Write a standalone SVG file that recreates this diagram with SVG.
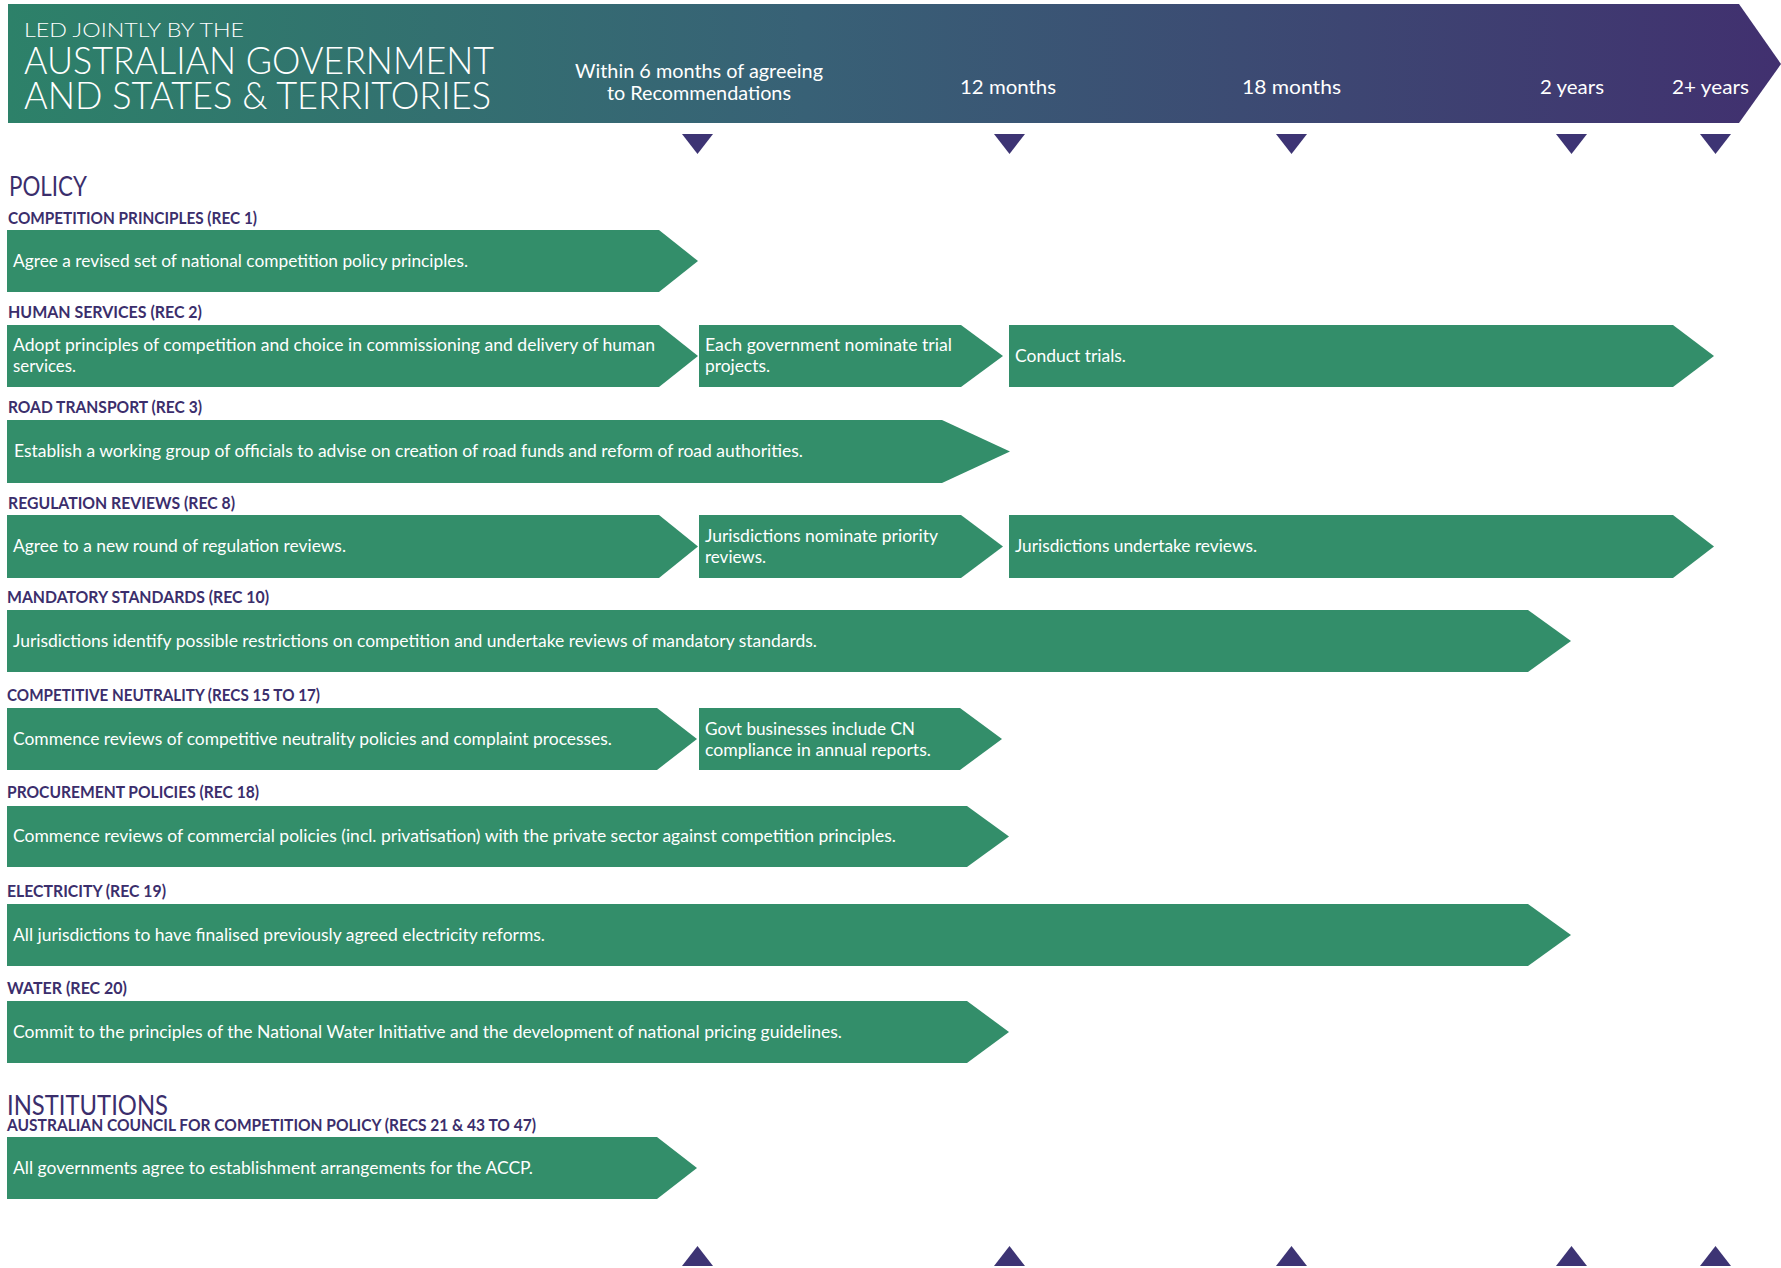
<svg xmlns="http://www.w3.org/2000/svg" width="1781" height="1268" viewBox="0 0 1781 1268">
<defs>
<linearGradient id="hdr" x1="0" y1="0" x2="1" y2="0">
<stop offset="0" stop-color="#2d8169"/>
<stop offset="0.45" stop-color="#386176"/>
<stop offset="1" stop-color="#41306f"/>
</linearGradient>
</defs>
<style>
.bar{fill:#338e6a}
.tri{fill:#3d3474}
.bt{fill:#ffffff;font-family:Lato,'Liberation Sans',sans-serif;font-size:17px}
.hd{fill:#3b2e6c;font-family:Lato,'Liberation Sans',sans-serif;font-size:17px;font-weight:700}
.sec{fill:#3b2e6c;font-family:Lato,'Liberation Sans',sans-serif;font-size:27px;font-weight:400}
.ht{fill:#ffffff;font-family:Lato,'Liberation Sans',sans-serif;font-weight:300}
.tl{fill:#ffffff;font-family:Lato,'Liberation Sans',sans-serif;font-size:20px;font-weight:400}
</style>
<rect width="1781" height="1268" fill="#ffffff"/>

<g id="header">
<polygon points="8,4 1739,4 1781,64 1739,123 8,123" fill="url(#hdr)"/>
<text class="ht" x="24" y="37" font-size="20" textLength="220" lengthAdjust="spacingAndGlyphs">LED JOINTLY BY THE</text>
<text class="ht" x="24" y="74" font-size="38" textLength="470" lengthAdjust="spacingAndGlyphs">AUSTRALIAN GOVERNMENT</text>
<text class="ht" x="24" y="109" font-size="38" textLength="467" lengthAdjust="spacingAndGlyphs">AND STATES &amp; TERRITORIES</text>
<text class="tl" x="575" y="78" textLength="248" lengthAdjust="spacingAndGlyphs">Within 6 months of agreeing</text>
<text class="tl" x="607" y="100" textLength="184" lengthAdjust="spacingAndGlyphs">to Recommendations</text>
<text class="tl" x="960" y="94" textLength="96" lengthAdjust="spacingAndGlyphs">12 months</text>
<text class="tl" x="1242" y="94" textLength="99" lengthAdjust="spacingAndGlyphs">18 months</text>
<text class="tl" x="1540" y="94" textLength="64" lengthAdjust="spacingAndGlyphs">2 years</text>
<text class="tl" x="1672" y="94" textLength="77" lengthAdjust="spacingAndGlyphs">2+ years</text>
</g>

<g id="markers-top">
<polygon class="tri" points="682,134 713,134 697.5,154"/>
<polygon class="tri" points="994,134 1025,134 1009.5,154"/>
<polygon class="tri" points="1276,134 1307,134 1291.5,154"/>
<polygon class="tri" points="1556,134 1587,134 1571.5,154"/>
<polygon class="tri" points="1700,134 1731,134 1715.5,154"/>
</g>

<g id="markers-bottom">
<polygon class="tri" points="682,1266 713,1266 697.5,1246"/>
<polygon class="tri" points="994,1266 1025,1266 1009.5,1246"/>
<polygon class="tri" points="1276,1266 1307,1266 1291.5,1246"/>
<polygon class="tri" points="1556,1266 1587,1266 1571.5,1246"/>
<polygon class="tri" points="1700,1266 1731,1266 1715.5,1246"/>
</g>

<g id="section-policy">
<text class="sec" x="9" y="196" textLength="78" lengthAdjust="spacingAndGlyphs">POLICY</text>
</g>

<g id="row-competition-principles">
<text class="hd" x="8" y="224" textLength="249" lengthAdjust="spacingAndGlyphs">COMPETITION PRINCIPLES (REC 1)</text>
<polygon class="bar" points="7,230 659,230 698,261 659,292 7,292"/>
<text class="bt" x="13" y="267" textLength="455" lengthAdjust="spacingAndGlyphs">Agree a revised set of national competition policy principles.</text>
</g>

<g id="row-human-services">
<text class="hd" x="8" y="318" textLength="194" lengthAdjust="spacingAndGlyphs">HUMAN SERVICES (REC 2)</text>
<g id="hs-1">
<polygon class="bar" points="7,325 659,325 698,356 659,387 7,387"/>
<text class="bt" x="13" y="351" textLength="642" lengthAdjust="spacingAndGlyphs">Adopt principles of competition and choice in commissioning and delivery of human</text>
<text class="bt" x="13" y="372" textLength="63" lengthAdjust="spacingAndGlyphs">services.</text>
</g>
<g id="hs-2">
<polygon class="bar" points="699,325 961,325 1003,356 961,387 699,387"/>
<text class="bt" x="705" y="351" textLength="247" lengthAdjust="spacingAndGlyphs">Each government nominate trial</text>
<text class="bt" x="705" y="372" textLength="65" lengthAdjust="spacingAndGlyphs">projects.</text>
</g>
<g id="hs-3">
<polygon class="bar" points="1009,325 1673,325 1714,356 1673,387 1009,387"/>
<text class="bt" x="1015" y="362" textLength="111" lengthAdjust="spacingAndGlyphs">Conduct trials.</text>
</g>
</g>

<g id="row-road-transport">
<text class="hd" x="8" y="413" textLength="194" lengthAdjust="spacingAndGlyphs">ROAD TRANSPORT (REC 3)</text>
<polygon class="bar" points="7,420 942,420 1010,451.5 942,483 7,483"/>
<text class="bt" x="14" y="457" textLength="789" lengthAdjust="spacingAndGlyphs">Establish a working group of officials to advise on creation of road funds and reform of road authorities.</text>
</g>

<g id="row-regulation-reviews">
<text class="hd" x="8" y="509" textLength="227" lengthAdjust="spacingAndGlyphs">REGULATION REVIEWS (REC 8)</text>
<g id="rr-1">
<polygon class="bar" points="7,515 659,515 698,546.5 659,578 7,578"/>
<text class="bt" x="13" y="552" textLength="333" lengthAdjust="spacingAndGlyphs">Agree to a new round of regulation reviews.</text>
</g>
<g id="rr-2">
<polygon class="bar" points="699,515 961,515 1003,546.5 961,578 699,578"/>
<text class="bt" x="705" y="542" textLength="233" lengthAdjust="spacingAndGlyphs">Jurisdictions nominate priority</text>
<text class="bt" x="705" y="563" textLength="61" lengthAdjust="spacingAndGlyphs">reviews.</text>
</g>
<g id="rr-3">
<polygon class="bar" points="1009,515 1673,515 1714,546.5 1673,578 1009,578"/>
<text class="bt" x="1015" y="552" textLength="242" lengthAdjust="spacingAndGlyphs">Jurisdictions undertake reviews.</text>
</g>
</g>

<g id="row-mandatory-standards">
<text class="hd" x="7" y="603" textLength="262" lengthAdjust="spacingAndGlyphs">MANDATORY STANDARDS (REC 10)</text>
<polygon class="bar" points="7,610 1528,610 1571,641 1528,672 7,672"/>
<text class="bt" x="13" y="647" textLength="804" lengthAdjust="spacingAndGlyphs">Jurisdictions identify possible restrictions on competition and undertake reviews of mandatory standards.</text>
</g>

<g id="row-competitive-neutrality">
<text class="hd" x="7" y="701" textLength="313" lengthAdjust="spacingAndGlyphs">COMPETITIVE NEUTRALITY (RECS 15 TO 17)</text>
<g id="cn-1">
<polygon class="bar" points="7,708 657,708 697,739 657,770 7,770"/>
<text class="bt" x="13" y="745" textLength="599" lengthAdjust="spacingAndGlyphs">Commence reviews of competitive neutrality policies and complaint processes.</text>
</g>
<g id="cn-2">
<polygon class="bar" points="699,708 960,708 1002,739 960,770 699,770"/>
<text class="bt" x="705" y="735" textLength="210" lengthAdjust="spacingAndGlyphs">Govt businesses include CN</text>
<text class="bt" x="705" y="756" textLength="226" lengthAdjust="spacingAndGlyphs">compliance in annual reports.</text>
</g>
</g>

<g id="row-procurement-policies">
<text class="hd" x="7" y="798" textLength="252" lengthAdjust="spacingAndGlyphs">PROCUREMENT POLICIES (REC 18)</text>
<polygon class="bar" points="7,806 967,806 1009,836.5 967,867 7,867"/>
<text class="bt" x="13" y="842" textLength="883" lengthAdjust="spacingAndGlyphs">Commence reviews of commercial policies (incl. privatisation) with the private sector against competition principles.</text>
</g>

<g id="row-electricity">
<text class="hd" x="7" y="897" textLength="159" lengthAdjust="spacingAndGlyphs">ELECTRICITY (REC 19)</text>
<polygon class="bar" points="7,904 1528,904 1571,935 1528,966 7,966"/>
<text class="bt" x="13" y="941" textLength="532" lengthAdjust="spacingAndGlyphs">All jurisdictions to have finalised previously agreed electricity reforms.</text>
</g>

<g id="row-water">
<text class="hd" x="7" y="994" textLength="120" lengthAdjust="spacingAndGlyphs">WATER (REC 20)</text>
<polygon class="bar" points="7,1001 967,1001 1009,1032 967,1063 7,1063"/>
<text class="bt" x="13" y="1038" textLength="829" lengthAdjust="spacingAndGlyphs">Commit to the principles of the National Water Initiative and the development of national pricing guidelines.</text>
</g>

<g id="section-institutions">
<text class="sec" x="7" y="1115" textLength="161" lengthAdjust="spacingAndGlyphs">INSTITUTIONS</text>
</g>

<g id="row-accp">
<text class="hd" x="7" y="1131" textLength="529" lengthAdjust="spacingAndGlyphs">AUSTRALIAN COUNCIL FOR COMPETITION POLICY (RECS 21 &amp; 43 TO 47)</text>
<polygon class="bar" points="7,1137 657,1137 697,1168 657,1199 7,1199"/>
<text class="bt" x="13" y="1174" textLength="520" lengthAdjust="spacingAndGlyphs">All governments agree to establishment arrangements for the ACCP.</text>
</g>
</svg>
